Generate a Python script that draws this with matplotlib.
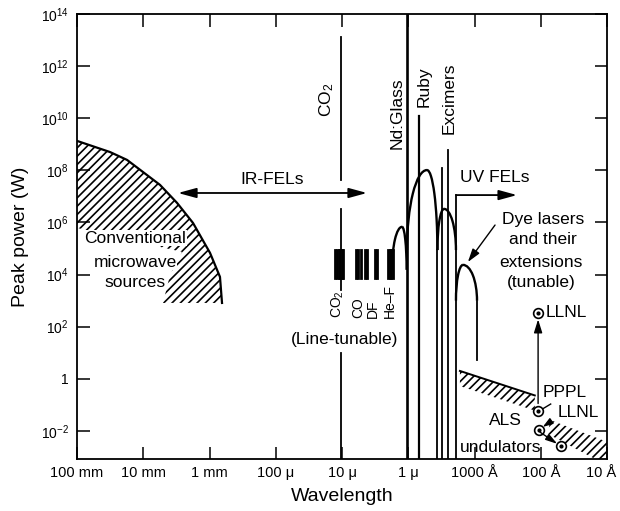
import matplotlib
matplotlib.use('Agg')
import matplotlib.pyplot as plt
import matplotlib.transforms as mtransforms
from matplotlib.patches import Arc, Polygon

plt.rcParams['font.family'] = ['Liberation Sans', 'DejaVu Sans']
plt.rcParams['mathtext.fontset'] = 'custom'
plt.rcParams['mathtext.rm'] = 'Liberation Sans'
plt.rcParams['mathtext.it'] = 'Liberation Sans:italic'
plt.rcParams['mathtext.bf'] = 'Liberation Sans:bold'
plt.rcParams['hatch.linewidth'] = 1.2

# all positions are in decades: x = log10(wavelength / m), y = log10(peak power / W)
x_ticks = [-1, -2, -3, -4, -5, -6, -7, -8, -9]
x_tick_labels = ['100 mm', '10 mm', '1 mm', '100 \u03bc', '10 \u03bc', '1 \u03bc',
                 '1000 \u00c5', '100 \u00c5', '10 \u00c5']
y_ticks = [-2, 0, 2, 4, 6, 8, 10, 12, 14]
y_tick_labels = ['$10^{-2}$', '1', '$10^{2}$', '$10^{4}$', '$10^{6}$', '$10^{8}$',
                 '$10^{10}$', '$10^{12}$', '$10^{14}$']

# conventional microwave sources (outer curve, then the inner edge round the text)
mw_curve_x = [-1.0, -1.50, -1.755, -2.253, -2.51, -2.751, -3.008, -3.158, -3.189]
mw_curve_y = [9.13, 8.70, 8.40, 7.44, 6.75, 5.98, 4.83, 3.91, 2.91]
mw_inner_x = [-2.298, -2.404, -2.585, -1.0]
mw_inner_y = [2.91, 3.98, 4.87, 5.79]

# tunable bumps: left foot, peak position, right foot, base level, peak level
bump_names = ['Nd:Glass', 'Ruby', 'Excimers', 'Dye']
bump_left = [-5.755, -5.981, -6.44, -6.72]
bump_peak_x = [-5.906, -6.283, -6.54, -6.826]
bump_right = [-5.975, -6.44, -6.72, -7.038]
bump_base = [4.18, 4.94, 4.94, 3.0]
bump_peak = [5.83, 8.01, 6.52, 4.37]

# vertical laser lines: position, top, bottom
vline_x = [-5.975, -6.159, -6.44, -6.51, -6.606, -6.72, -7.038]
vline_top = [14.0, 10.1, 4.94, 8.09, 8.78, 7.05, 3.0]
vline_bot = [-3.08, -3.08, -3.08, -3.08, -3.08, -3.08, 0.72]
vline_w = [1.9, 1.6, 1.3, 1.3, 1.3, 1.3, 1.3]

# CO2 line segments (10.6 um)
co2_x = -4.99
co2_seg_top = [13.12, 6.5, 3.87, 1.0]
co2_seg_bot = [7.62, 4.94, 3.4, -3.08]

# line-tunable lasers
bar_bottom = 3.87
bar_top = 4.94
bar_lines = {
    'CO2': [-4.90, -4.925, -4.95, -4.975, -5.0, -5.015],
    'CO': [-5.204, -5.249, -5.294, -5.340, -5.377],
    'DF': [-5.50, -5.53],
    'HF': [-5.70, -5.72, -5.745, -5.765],
}
bar_labels = ['CO$_2$', 'CO', 'DF', 'He\u2013F']
bar_label_x = [-4.94, -5.24, -5.47, -5.72]
bar_label_y = 2.33

# undulator limit bands
band1 = [(-6.78, 0.30), (-7.91, -0.64), (-7.91, -1.22), (-6.78, -0.28)]
band1_edge_x = [-6.78, -7.91]
band1_edge_y = [0.30, -0.64]
band2 = [(-8.14, -1.58), (-9.0, -2.42), (-9.0, -3.08), (-8.82, -3.08), (-8.11, -2.12)]

# FEL points
pt_names = ['LLNL', 'PPPL', 'LLNL2', 'ALS']
pt_x = [-7.96, -7.96, -7.97, -8.30]
pt_y = [2.53, -1.23, -1.96, -2.58]

fs = 12.5

fig = plt.figure(figsize=(6.2, 5.11), dpi=100)
ax = fig.add_axes([77 / 620, 1 - 459 / 511, 530 / 620, 445 / 511])
ax.set_xlim(-1, -9)
ax.set_ylim(-3.08, 14)
ax.set_xticks(x_ticks)
ax.set_xticklabels(x_tick_labels)
ax.set_yticks(y_ticks)
ax.set_yticklabels(y_tick_labels)
ax.tick_params(direction='in', length=9, width=1.1, top=True, right=True)
ax.tick_params(axis='x', labelsize=10.5, pad=5)
ax.tick_params(axis='y', labelsize=10, pad=6)
for s in ax.spines.values():
    s.set_linewidth(1.3)
ax.set_xlabel('Wavelength', fontsize=14, labelpad=6)
ax.set_ylabel('Peak power (W)', fontsize=14, labelpad=8)
# last label sits at the right edge of the figure, nudge it in a little
last = ax.get_xticklabels()[-1]
last.set_transform(last.get_transform() + mtransforms.ScaledTranslation(-6 / 100, 0, fig.dpi_scale_trans))

lw = 1.3

# microwave region
poly_pts = list(zip(mw_curve_x, mw_curve_y)) + list(zip(mw_inner_x, mw_inner_y))
ax.add_patch(Polygon(poly_pts, closed=True, facecolor='none', edgecolor='black',
                     linewidth=0, hatch='////'))
ax.plot(mw_curve_x, mw_curve_y, color='black', lw=1.6)
for txt, ty in zip(['Conventional', 'microwave', 'sources'], [5.40, 4.48, 3.68]):
    ax.text(-1.875, ty, txt, fontsize=fs, ha='center', va='center',
            bbox=dict(fc='white', ec='none', pad=0.5))

# vertical lines
for x, t, b, w in zip(vline_x, vline_top, vline_bot, vline_w):
    ax.plot([x, x], [b, t], color='black', lw=w)
for t, b in zip(co2_seg_top, co2_seg_bot):
    ax.plot([co2_x, co2_x], [b, t], color='black', lw=lw)

# bumps as two quarter arcs each
for lft, px, rgt, base, peak in zip(bump_left, bump_peak_x, bump_right, bump_base, bump_peak):
    h = peak - base
    ax.add_patch(Arc((px, base), 2 * (lft - px), 2 * h, theta1=0, theta2=90,
                     color='black', lw=1.7))
    ax.add_patch(Arc((px, base), 2 * (px - rgt), 2 * h, theta1=90, theta2=180,
                     color='black', lw=1.7))

# line-tunable bars
for key, xs in bar_lines.items():
    for x in xs:
        ax.plot([x, x], [bar_bottom, bar_top], color='black', lw=2.0)
for lab, x in zip(bar_labels, bar_label_x):
    ax.text(x, bar_label_y, lab, rotation=90, fontsize=10, ha='center', va='bottom')
ax.text(-5.045, 1.49, '(Line-tunable)', fontsize=fs, ha='center', va='center')

# rotated laser labels
ax.text(-4.774, 10.7, 'CO$_2$', rotation=90, fontsize=fs, ha='center', va='center')
ax.text(-5.83, 10.2, 'Nd:Glass', rotation=90, fontsize=fs, ha='center', va='center')
ax.text(-6.24, 11.2, 'Ruby', rotation=90, fontsize=fs, ha='center', va='center')
ax.text(-6.615, 10.78, 'Excimers', rotation=90, fontsize=fs, ha='center', va='center')

# FEL arrows
ax.annotate('', xy=(-5.377, 7.13), xytext=(-2.525, 7.13),
            arrowprops=dict(arrowstyle='<|-|>,head_length=1.1,head_width=0.3',
                            color='black', lw=1.3, shrinkA=0, shrinkB=0))
ax.text(-3.94, 7.63, 'IR-FELs', fontsize=fs, ha='center', va='center')
ax.annotate('', xy=(-7.642, 7.05), xytext=(-6.72, 7.05),
            arrowprops=dict(arrowstyle='-|>,head_length=1.1,head_width=0.3',
                            color='black', lw=1.3, shrinkA=0, shrinkB=0))
ax.text(-7.31, 7.71, 'UV FELs', fontsize=fs, ha='center', va='center')

# dye laser label
ax.annotate('', xy=(-6.90, 4.48), xytext=(-7.31, 5.90),
            arrowprops=dict(arrowstyle='-|>,head_length=0.8,head_width=0.25',
                            color='black', lw=1.0, shrinkA=0, shrinkB=0))
for txt, tx, ty in zip(['Dye lasers', 'and their', 'extensions', '(tunable)'],
                       [-8.03, -8.03, -8.0, -8.0], [6.10, 5.33, 4.48, 3.68]):
    ax.text(tx, ty, txt, fontsize=fs, ha='center', va='center')

# undulator bands
ax.add_patch(Polygon(band1, closed=True, facecolor='none', edgecolor='black',
                     linewidth=0, hatch='////'))
ax.plot(band1_edge_x, band1_edge_y, color='black', lw=1.4)
ax.add_patch(Polygon(band2, closed=True, facecolor='none', edgecolor='black',
                     linewidth=0, hatch='////'))

# FEL experiment points and their arrows
ax.annotate('', xy=(pt_x[0], pt_y[0] - 0.25), xytext=(pt_x[1], pt_y[1] + 0.28),
            arrowprops=dict(arrowstyle='-|>,head_length=0.8,head_width=0.25',
                            color='black', lw=1.0, shrinkA=0, shrinkB=0))
ax.annotate('', xy=(pt_x[3] + 0.05, pt_y[3] + 0.08), xytext=(pt_x[2] - 0.02, pt_y[2] - 0.09),
            arrowprops=dict(arrowstyle='-|>,head_length=0.7,head_width=0.2',
                            color='black', lw=1.0, shrinkA=0, shrinkB=0))
ax.annotate('', xy=(-8.03, -1.85), xytext=(-8.14, -1.66),
            arrowprops=dict(arrowstyle='-|>,head_length=0.6,head_width=0.2',
                            color='black', lw=1.0, shrinkA=0, shrinkB=0))
ax.plot([-8.15, -8.00], [-0.97, -1.20], color='black', lw=1.0)
ax.plot(pt_x, pt_y, 'o', ms=7, mfc='white', mec='black', mew=1.2, ls='none')
ax.plot(pt_x, pt_y, 'o', ms=2, color='black', ls='none')

ax.text(-8.08, 2.53, 'LLNL', fontsize=fs, ha='left', va='center')
ax.text(-8.03, -0.54, 'PPPL', fontsize=fs, ha='left', va='center')
ax.text(-8.26, -1.31, 'LLNL', fontsize=fs, ha='left', va='center')
ax.text(-7.46, -1.62, 'ALS', fontsize=fs, ha='center', va='center')
ax.text(-7.40, -2.62, 'undulators', fontsize=fs, ha='center', va='center')

fig.savefig('out.png', dpi=100)
